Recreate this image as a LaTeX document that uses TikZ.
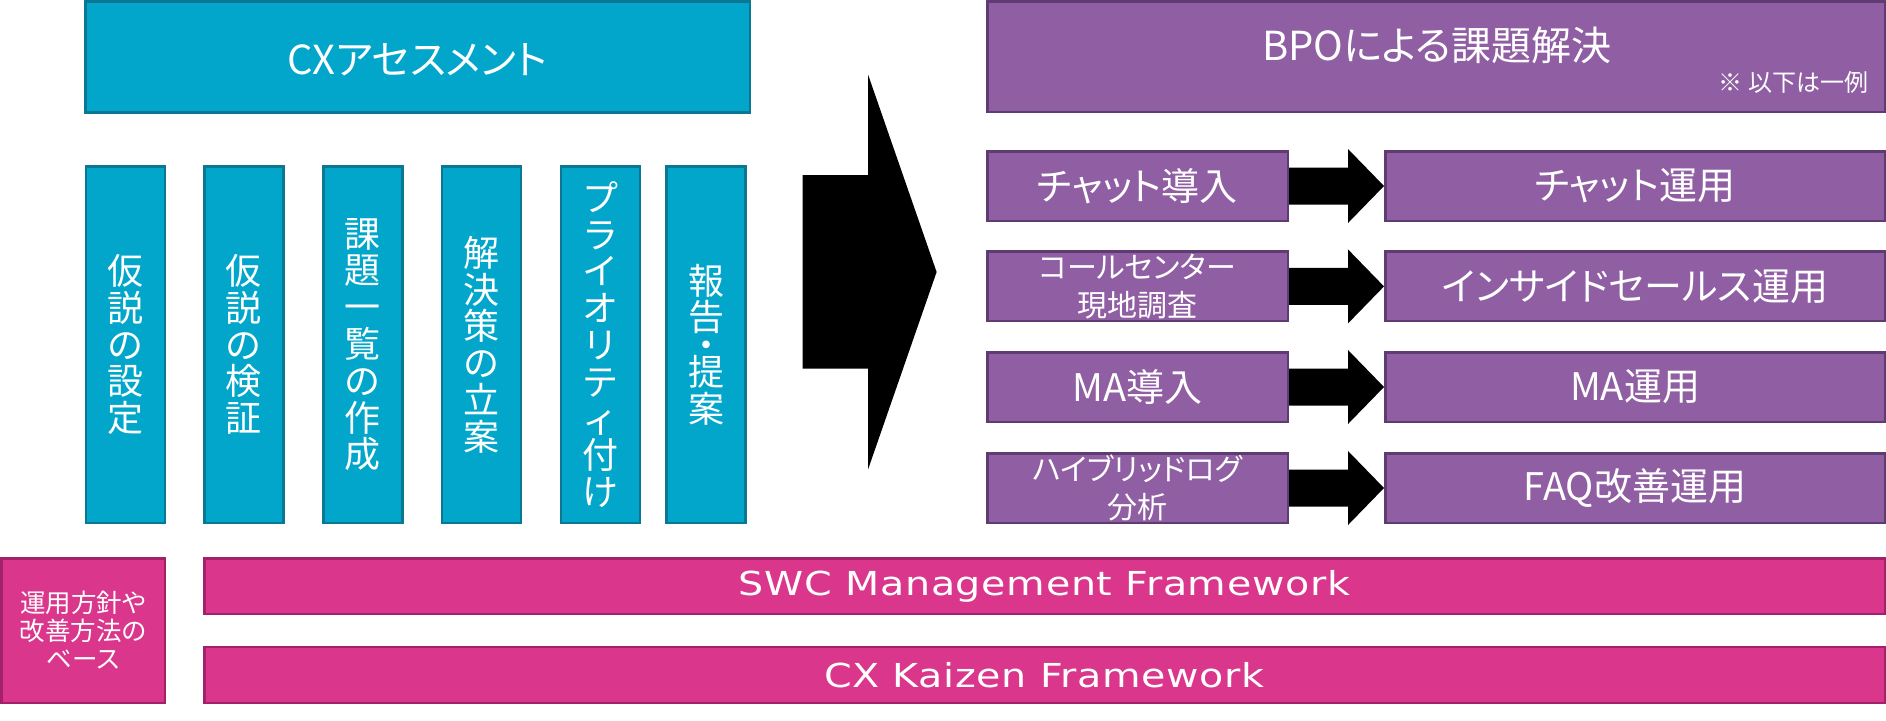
\documentclass[tikz,border=0pt]{standalone}
\usepackage{fontspec}
\setmainfont{Noto Sans CJK JP}[RawFeature=+palt]
\newfontfamily\jpv{Noto Sans CJK JP}
\newfontfamily\latn{DejaVu Sans}[FakeStretch=1.2, LetterSpace=2]
\usetikzlibrary{calc}
\definecolor{tealF}{HTML}{02A6CB}
\definecolor{tealB}{HTML}{0B7893}
\definecolor{purF}{HTML}{905EA3}
\definecolor{purB}{HTML}{5E3C71}
\definecolor{pinkF}{HTML}{DA368B}
\definecolor{pinkB}{HTML}{A2216A}
\begin{document}
\begin{tikzpicture}[x=1pt,y=-1pt,
  box/.style={line width=2.5pt, inner sep=0pt, text=white, align=center},
  tbox/.style={box, draw=tealB, fill=tealF},
  pbox/.style={box, draw=purB, fill=purF},
  mbox/.style={box, draw=pinkB, fill=pinkF},
  vcol/.style={tbox, minimum width=79pt, minimum height=356.5pt, font=\jpv\fontsize{36}{36.8}\selectfont},
  lrow/.style={pbox, minimum width=300.5pt, minimum height=69.5pt},
  rrow/.style={pbox, minimum width=499.5pt, minimum height=69.5pt, font=\fontsize{38}{38}\selectfont},
  one/.style={font=\fontsize{38}{38}\selectfont},
  two/.style={font=\fontsize{30}{38}\selectfont},
  txt/.style={text=white, inner sep=0pt, align=center},
  fw/.style={mbox, minimum width=1680.5pt, minimum height=55.5pt, font=\latn\fontsize{33}{33}\selectfont},
]
\useasboundingbox (0,0) rectangle (1886,720);
\fill[white] (0,0) rectangle (1886,720);

% CX assessment
\node[tbox, minimum width=664.5pt, minimum height=111pt] (cx) at (417.5,56.75) {};
\node[txt, font=\fontsize{40}{40}\selectfont] (cxt) at (417.5,60) {CXアセスメント};

\node[vcol] (v1) at (125.5,344.5) {仮\\説\\の\\設\\定};
\node[vcol] (v2) at (243.85,344.5) {仮\\説\\の\\検\\証};
\node[vcol] (v3) at (362.8,344.5) {課\\題\\一\\覧\\の\\作\\成};
\node[vcol] (v4) at (481.6,344.5) {解\\決\\策\\の\\立\\案};
\node[vcol] (v5) at (600.5,344.5) {プ\\ラ\\イ\\オ\\リ\\テ\\ィ\\付\\け};
\node[vcol] (v6) at (706.1,344.5) {報\\告\\[-9.5pt]・\\[-9.5pt]提\\案};

% big arrow
\fill[black] (802.6,175) -- (868.2,175) -- (868.2,75) -- (936.6,272) -- (868.2,469) -- (868.2,368.5) -- (802.6,368.5) -- cycle;

% BPO
\node[pbox, minimum width=897.5pt, minimum height=110.5pt] (bpo) at (1436,56.5) {};
\node[txt, font=\fontsize{40}{40}\selectfont] (bpot) at (1437,45.5) {BPOによる課題解決};
\node[txt, anchor=east, font=\jpv\fontsize{24}{24}\selectfont] (note) at (1869,82) {※\hspace{6pt}以下は一例};

\node[lrow, one] (L1) at (1137.5,186) {チャット導入};
\node[lrow, two] (L2) at (1137.5,286.4) {コールセンター\\現地調査};
\node[lrow, one] (L3) at (1137.5,387) {MA導入};
\node[lrow, two] (L4) at (1137.5,488) {ハイブリッドログ\\分析};

\node[rrow] (R1) at (1635,186) {チャット運用};
\node[rrow] (R2) at (1635,286.4) {インサイドセールス運用};
\node[rrow] (R3) at (1635,387) {MA運用};
\node[rrow] (R4) at (1635,488) {FAQ改善運用};

\foreach \i in {1,...,4} {
  \fill[black] ($(L\i.east)+(0,-18.5)$) -- ($(R\i.west)+(-36,-18.5)$) -- ($(R\i.west)+(-36,-37)$) -- (R\i.west) -- ($(R\i.west)+(-36,37)$) -- ($(R\i.west)+(-36,18.5)$) -- ($(L\i.east)+(0,18.5)$) -- cycle;
}

% bottom
\node[mbox, minimum width=163.5pt, minimum height=144.5pt, font=\fontsize{25.5}{28}\selectfont] (base) at (83,630.5) {運用方針や\\改善方法の\\ベース};
\node[fw] (swc) at (1044.5,586) {SWC Management Framework};
\node[fw, minimum height=55.8pt] (kz) at (1044.5,674.85) {CX Kaizen Framework};
\end{tikzpicture}
\end{document}
